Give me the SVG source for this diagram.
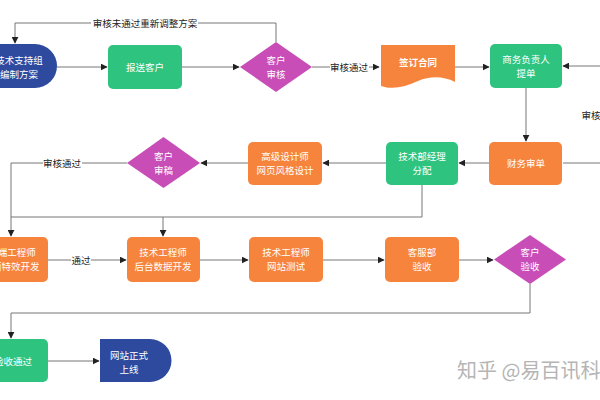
<svg xmlns="http://www.w3.org/2000/svg" width="600" height="400" viewBox="0 0 600 400">
<defs>
<marker id="arr" viewBox="0 0 10 10" refX="9" refY="5" markerWidth="7" markerHeight="7" markerUnits="userSpaceOnUse" orient="auto">
<path d="M0,0 L10,5 L0,10 Z" fill="#222"/>
</marker>
<style>
.t{font-family:"Noto Sans CJK SC","Noto Sans",sans-serif;font-size:9.5px;fill:#fff;text-anchor:middle;dominant-baseline:central}
.lb{font-family:"Noto Sans CJK SC","Noto Sans",sans-serif;font-size:9.5px;fill:#222;text-anchor:middle;dominant-baseline:central}
.c{fill:none;stroke:#777;stroke-width:1}
.a{marker-end:url(#arr)}
.g{fill:#2EC47F}
.o{fill:#F7843C}
.m{fill:#C84DB7}
.b{fill:#2D4A9E}
.bg{fill:#fff}
</style>
</defs>
<rect width="600" height="400" fill="#fff"/>
<g id="connectors">
<path class="c a" d="M57,67 H107"/>
<path class="c a" d="M182,67 H239"/>
<path class="c a" d="M276,42 V23 H15 V43"/>
<path class="c a" d="M312,67 H379"/>
<path class="c a" d="M455,67 H489"/>
<path class="c a" d="M563,163 H610 V66 H563"/>
<path class="c a" d="M526,88 V141"/>
<path class="c a" d="M489,163 H459"/>
<path class="c a" d="M386,163 H323"/>
<path class="c a" d="M248,163 H201"/>
<path class="c a" d="M127,163 H11 V236"/>
<path class="c" d="M422,185 V217 H11"/>
<path class="c a" d="M163,217 V236"/>
<path class="c a" d="M48,260 H126"/>
<path class="c a" d="M200,260 H248"/>
<path class="c a" d="M323,260 H384"/>
<path class="c a" d="M459,260 H493"/>
<path class="c a" d="M530,284 V313 H11 V338"/>
<path class="c a" d="M48,361 H99"/>
<rect class="bg" x="91" y="16" width="107" height="14"/>
<text class="lb" x="145" y="23">审核未通过重新调整方案</text>
<rect class="bg" x="330" y="60" width="39" height="14"/>
<text class="lb" x="349" y="67">审核通过</text>
<rect class="bg" x="579" y="108" width="21" height="14"/>
<text class="lb" x="591" y="115">审核</text>
<rect class="bg" x="43" y="156" width="39" height="14"/>
<text class="lb" x="62" y="163">审核通过</text>
<rect class="bg" x="71" y="253" width="20" height="14"/>
<text class="lb" x="81" y="260">通过</text>
</g>
<g id="n-plan">
<path class="b" d="M-40,44 H35 A22,22 0 0 1 35,88 H-40 Z"/>
<text class="t" x="19" y="60">技术支持组</text>
<text class="t" x="19" y="74">编制方案</text>
</g>
<g id="n-send">
<rect class="g" x="108" y="45" width="74" height="44" rx="5"/>
<text class="t" x="145" y="67">报送客户</text>
</g>
<g id="n-review1">
<path class="m" d="M240,67 L276,42 L312,67 L276,92 Z"/>
<text class="t" x="276" y="60">客户</text>
<text class="t" x="276" y="74">审核</text>
</g>
<g id="n-contract">
<path class="o" d="M381,45 H455 V82 C443,76 430,76 418,81 C405,87 393,90 381,86 Z"/>
<text class="t" x="418" y="62" style="font-weight:bold">签订合同</text>
</g>
<g id="n-order">
<rect class="g" x="490" y="44" width="72" height="44" rx="5"/>
<text class="t" x="526" y="59">商务负责人</text>
<text class="t" x="526" y="73">提单</text>
</g>
<g id="n-finance">
<rect class="o" x="489" y="142" width="73" height="43" rx="5"/>
<text class="t" x="526" y="163">财务审单</text>
</g>
<g id="n-manager">
<rect class="g" x="386" y="142" width="72" height="43" rx="5"/>
<text class="t" x="422" y="156">技术部经理</text>
<text class="t" x="422" y="170">分配</text>
</g>
<g id="n-design">
<rect class="o" x="248" y="142" width="74" height="43" rx="5"/>
<text class="t" x="285" y="156">高级设计师</text>
<text class="t" x="285" y="170">网页风格设计</text>
</g>
<g id="n-review2">
<path class="m" d="M127,163 L163.5,137 L200,163 L163.5,188 Z"/>
<text class="t" x="163.5" y="156">客户</text>
<text class="t" x="163.5" y="170">审稿</text>
</g>
<g id="n-frontend">
<rect class="o" x="-26" y="237" width="74" height="45" rx="5"/>
<text class="t" x="12" y="252">前端工程师</text>
<text class="t" x="11" y="266">页面特效开发</text>
</g>
<g id="n-backend">
<rect class="o" x="127" y="237" width="73" height="45" rx="5"/>
<text class="t" x="163" y="252">技术工程师</text>
<text class="t" x="163" y="266">后台数据开发</text>
</g>
<g id="n-test">
<rect class="o" x="249" y="237" width="74" height="45" rx="5"/>
<text class="t" x="286" y="252">技术工程师</text>
<text class="t" x="286" y="266">网站测试</text>
</g>
<g id="n-service">
<rect class="o" x="385" y="237" width="74" height="45" rx="5"/>
<text class="t" x="422" y="252">客服部</text>
<text class="t" x="422" y="266">验收</text>
</g>
<g id="n-review3">
<path class="m" d="M494,259.5 L530,235 L566,259.5 L530,284 Z"/>
<text class="t" x="530" y="252">客户</text>
<text class="t" x="530" y="266">验收</text>
</g>
<g id="n-accepted">
<rect class="g" x="-26" y="339" width="74" height="43" rx="5"/>
<text class="t" x="13" y="361">验收通过</text>
</g>
<g id="n-launch">
<path class="b" d="M100,339 H150 A21.5,21.5 0 0 1 150,382 H100 Z"/>
<text class="t" x="129" y="355">网站正式</text>
<text class="t" x="129" y="369">上线</text>
</g>
<text x="457" y="378" style="font-family:'Noto Sans CJK SC','Noto Sans',sans-serif;font-size:20px;fill:#b5b5b5">知乎 @易百讯科</text>
</svg>
